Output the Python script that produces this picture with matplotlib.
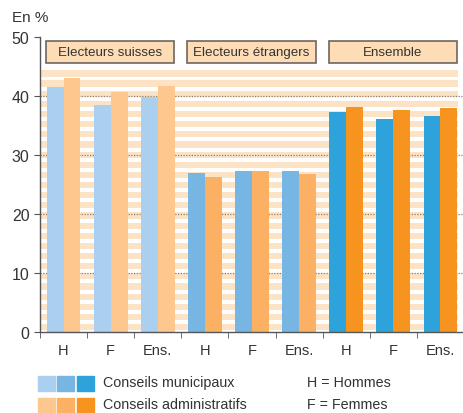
import numpy as np
import matplotlib.pyplot as plt
from matplotlib.patches import Rectangle

plt.rcParams['font.family'] = ['Liberation Sans', 'DejaVu Sans']

cats = ['H', 'F', 'Ens.', 'H', 'F', 'Ens.', 'H', 'F', 'Ens.']
groups = ['Electeurs suisses', 'Electeurs étrangers', 'Ensemble']
municipaux = [41.5, 38.5, 39.8, 27.0, 27.3, 27.3, 37.3, 36.1, 36.6]
administratifs = [43.0, 40.7, 41.7, 26.3, 27.3, 26.8, 38.1, 37.6, 38.0]

blues = ['#abcfee', '#77b5e3', '#2ea2da']
oranges = ['#fdc78e', '#fbb064', '#f7941f']
txt = '#333333'

fig = plt.figure(figsize=(4.64, 4.14), dpi=100)
ax = fig.add_axes([40/464, 81/414, 424/464, 295/414])

x = np.arange(len(cats))
w = 0.358

# painted stripes in the background
for yy in np.arange(0.3, 45.0, 1.72):
    ax.axhspan(yy, yy + 1.05, xmin=0, xmax=0.985, color='#fde3c6', lw=0, zorder=0)

for g in [10, 20, 30, 40]:
    ax.axhline(g, color='#8c7c72', lw=0.9, ls=(0, (1, 1.2)), zorder=1)

for i in range(len(cats)):
    k = i // 3
    ax.bar(x[i] - w/2, municipaux[i], w, color=blues[k], zorder=2)
    ax.bar(x[i] + w/2, administratifs[i], w, color=oranges[k], zorder=2)

for k, name in enumerate(groups):
    x0 = 3*k - 0.5 + 0.13
    x1 = 3*k + 2.5 - 0.15
    ax.add_patch(Rectangle((x0, 45.6), x1 - x0, 3.7, facecolor='#fddcb6',
                           edgecolor='#6e6660', lw=1.2, zorder=3))
    ax.text((x0 + x1)/2, 47.45, name, ha='center', va='center',
            fontsize=9.6, color=txt, zorder=4)

ax.set_xlim(-0.5, 8.43)
ax.set_ylim(0, 50)
ax.set_yticks([0, 10, 20, 30, 40, 50])
ax.set_xticks(x)
ax.set_xticklabels(cats)
ax.set_xticks(np.arange(-0.5, 9, 1), minor=True)
ax.tick_params(axis='x', which='major', length=0, labelsize=10.5, colors=txt, pad=8)
ax.tick_params(axis='x', which='minor', length=4, direction='out', color='#555555')
ax.tick_params(axis='y', length=4, direction='out', labelsize=11.5, colors=txt, color='#555555')
for s in ['top', 'right']:
    ax.spines[s].set_visible(False)
for s in ['left', 'bottom']:
    ax.spines[s].set_color('#555555')
    ax.spines[s].set_linewidth(1.0)

fig.text(12/464, 1 - 18/414, 'En %', fontsize=11, color=txt, va='center')

# legend
for j in range(3):
    fig.patches.append(Rectangle(((38 + 19.5*j)/464, 1 - 392/414), 16.5/464, 15/414,
                                 transform=fig.transFigure, color=blues[j]))
    fig.patches.append(Rectangle(((38 + 19.5*j)/464, 1 - 414/414), 16.5/464, 15/414,
                                 transform=fig.transFigure, color=oranges[j]))
fig.text(103/464, 1 - 383/414, 'Conseils municipaux', fontsize=10.3, color=txt, va='center')
fig.text(103/464, 1 - 405/414, 'Conseils administratifs', fontsize=10.3, color=txt, va='center')
fig.text(307/464, 1 - 383/414, 'H = Hommes', fontsize=10.3, color=txt, va='center')
fig.text(307/464, 1 - 405/414, 'F = Femmes', fontsize=10.3, color=txt, va='center')

fig.savefig('out.png', dpi=100)
